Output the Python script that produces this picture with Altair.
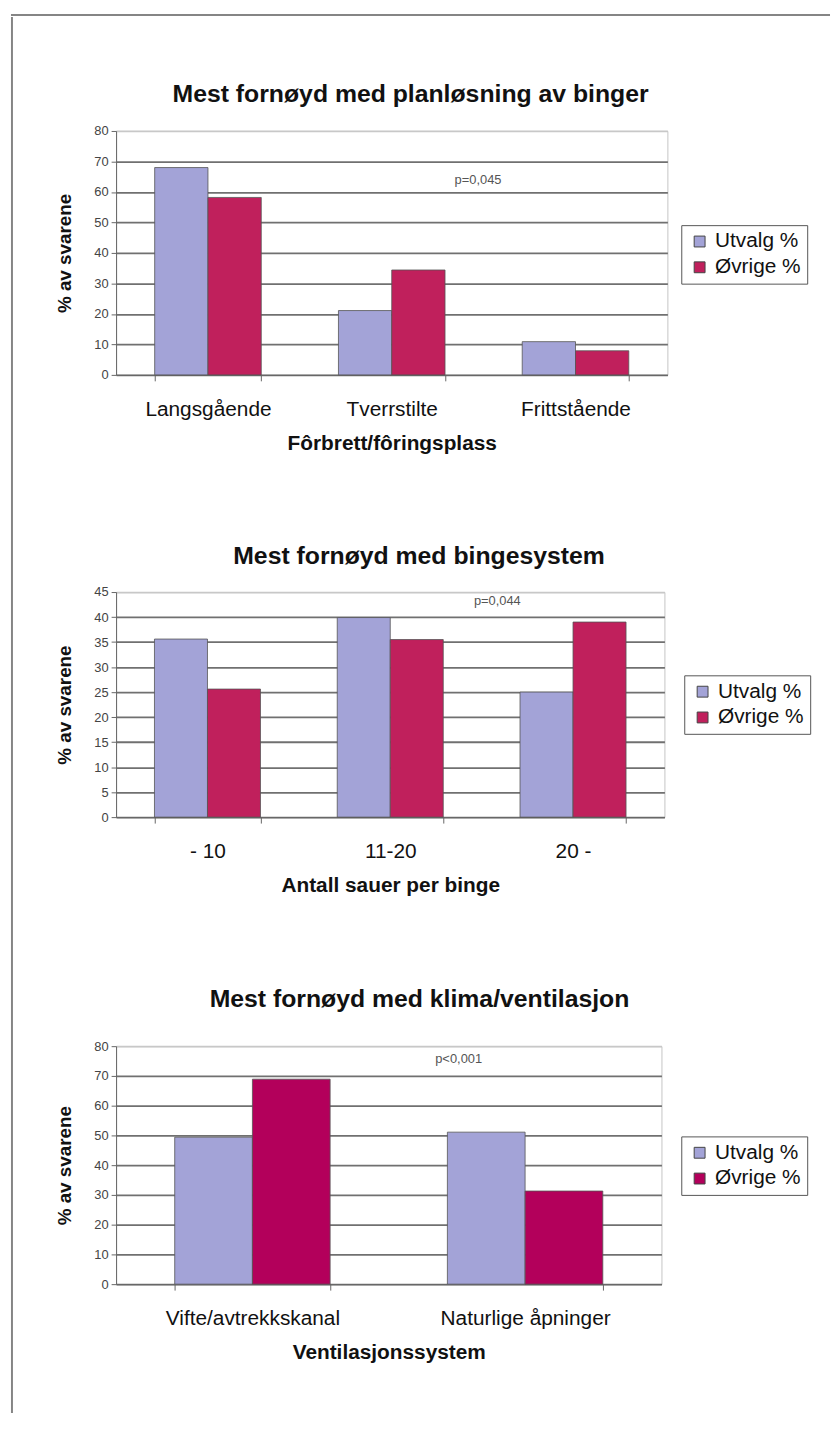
import altair as alt
import pandas as pd

FONT = "Liberation Sans"
series = ["Utvalg %", "Øvrige %"]
y_title = "% av svarene"

# Panel 1
p1_title = "Mest fornøyd med planløsning av binger"
p1_cats = ["Langsgående", "Tverrstilte", "Frittstående"]
p1_utvalg = [68.0, 21.1, 10.9]
p1_ovrige = [58.2, 34.4, 7.9]
p1_xtitle = "Fôrbrett/fôringsplass"
p1_ymax, p1_ystep = 80, 10
p1_p = "p=0,045"

# Panel 2
p2_title = "Mest fornøyd med bingesystem"
p2_cats = ["- 10", "11-20", "20 -"]
p2_utvalg = [35.6, 39.9, 25.0]
p2_ovrige = [25.6, 35.5, 39.0]
p2_xtitle = "Antall sauer per binge"
p2_ymax, p2_ystep = 45, 5
p2_p = "p=0,044"

# Panel 3
p3_title = "Mest fornøyd med klima/ventilasjon"
p3_cats = ["Vifte/avtrekkskanal", "Naturlige åpninger"]
p3_utvalg = [49.4, 51.1]
p3_ovrige = [68.9, 31.3]
p3_xtitle = "Ventilasjonssystem"
p3_ymax, p3_ystep = 80, 10
p3_p = "p<0,001"

colors_a = ["#a3a3d7", "#c0205c"]
colors_b = ["#a3a3d7", "#b3005b"]


def make_panel(title, cats, utv, ovr, xtitle, ymax, ystep, ptext, pcat, pval, pdx,
               w, h, colors, tdx, toff, lx, ly):
    df = pd.DataFrame({
        "cat": cats + cats,
        "series": [series[0]] * len(cats) + [series[1]] * len(cats),
        "value": utv + ovr,
    })
    n = len(cats)
    pin = 0.42 if n == 3 else 0.43
    ticks = list(range(0, ymax + 1, ystep))
    xenc = alt.X("cat:N", sort=cats, title=xtitle,
                 scale=alt.Scale(paddingInner=pin, paddingOuter=pin / 2),
                 axis=alt.Axis(labelAngle=0, tickBand="extent", grid=False,
                               domainColor="#666", tickColor="#666", tickSize=6,
                               labelFont=FONT, labelFontSize=21, labelColor="#111",
                               labelPadding=18, titleFont=FONT, titleFontSize=21,
                               titleFontWeight="bold", titleColor="#111",
                               titlePadding=13))
    yenc = alt.Y("value:Q", title=y_title,
                 scale=alt.Scale(domain=[0, ymax], nice=False, zero=True),
                 axis=alt.Axis(values=ticks, tickCount=len(ticks), grid=True,
                               gridColor={"condition": {"test": f"datum.value === {ymax}",
                                                        "value": "#c8c8c8"},
                                          "value": "#707070"},
                               gridWidth=1.8, domainColor="#666", tickColor="#666",
                               tickSize=5, labelFont=FONT, labelFontSize=13,
                               labelColor="#444", labelPadding=3, labelOverlap=False,
                               titleFont=FONT, titleFontSize=19, titleFontWeight="bold",
                               titleColor="#111", titlePadding=19))
    bars = alt.Chart(df).mark_bar(stroke="#555", strokeWidth=0.8).encode(
        x=xenc,
        xOffset=alt.XOffset("series:N", sort=series,
                            scale=alt.Scale(paddingInner=0, paddingOuter=0)),
        y=yenc,
        color=alt.Color("series:N", sort=series,
                        scale=alt.Scale(domain=series, range=colors),
                        legend=alt.Legend(orient="none", legendX=lx, legendY=ly,
                                          title=None, direction="vertical",
                                          fillColor="white", strokeColor="#555",
                                          padding=6, labelFont=FONT, labelFontSize=21,
                                          labelColor="#111", symbolType="square",
                                          symbolSize=120, symbolStrokeColor="#444",
                                          symbolStrokeWidth=1, rowPadding=4,
                                          labelOffset=5, symbolOffset=2)),
    )
    ann_df = pd.DataFrame({"cat": [pcat], "value": [pval], "label": [ptext]})
    ann = alt.Chart(ann_df).mark_text(dx=pdx, font=FONT, fontSize=13,
                                      color="#555").encode(
        x=xenc, y=yenc, text="label:N")
    return alt.layer(bars, ann).properties(
        width=w, height=h,
        title=alt.TitleParams(text=title, font=FONT, fontSize=25, fontWeight="bold",
                              color="#111", anchor="middle", dx=tdx, offset=toff),
        view=alt.ViewBackground(stroke="#c4c4c4", strokeWidth=1),
    )


panel1 = make_panel(p1_title, p1_cats, p1_utvalg, p1_ovrige, p1_xtitle, p1_ymax, p1_ystep,
                    p1_p, p1_cats[1], 64, 87, 556, 246, colors_a, 19, 18, 570, 95)
panel2 = make_panel(p2_title, p2_cats, p2_utvalg, p2_ovrige, p2_xtitle, p2_ymax, p2_ystep,
                    p2_p, p2_cats[1], 43.2, 108, 553, 227, colors_a, 29, 17, 573, 84)
panel3 = make_panel(p3_title, p3_cats, p3_utvalg, p3_ovrige, p3_xtitle, p3_ymax, p3_ystep,
                    p3_p, p3_cats[1], 75.6, -67, 550, 240, colors_b, 31, 29, 570, 91)

panels = alt.vconcat(panel1, panel2, panel3, spacing=90).resolve_scale(
    x="independent", y="independent", color="independent", xOffset="independent")

frame_df = pd.DataFrame({"k": [0]})
top_line = alt.Chart(frame_df).mark_rule(color="#858585", strokeWidth=2).encode(
    x=alt.value(0), x2=alt.value(826), y=alt.value(1)
).properties(width=2, height=2)
left_line = alt.Chart(frame_df).mark_rule(color="#858585", strokeWidth=2).encode(
    x=alt.value(1), y=alt.value(-115), y2=alt.value(1293)
).properties(width=2, height=2)

chart = alt.vconcat(
    top_line,
    alt.hconcat(left_line, panels, spacing=43),
    spacing=0,
).properties(
    padding={"left": 2, "top": 0, "right": 0, "bottom": 0},
).configure_view(strokeWidth=0)

chart.save("out.html", embed_options={"renderer": "svg", "actions": False})
